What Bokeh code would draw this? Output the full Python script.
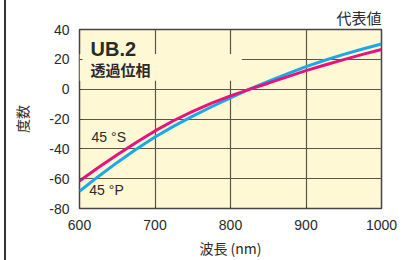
from bokeh.plotting import figure
from bokeh.models import Label, FixedTicker, Range1d, PrintfTickFormatter
from bokeh.embed import file_html
from bokeh.resources import INLINE

# wavelength (nm)
wavelength = [600, 625, 650, 675, 700, 725, 750, 775, 800, 825, 850, 875, 900, 925, 950, 975, 1000]
# 45° S-polarisation phase (deg)
phase_s = [-61.5, -52.5, -43.9, -35.7, -28.0, -21.0, -14.9, -9.4, -4.5, -0.1, 4.0, 8.2, 12.4, 16.2, 19.8, 23.3, 26.6]
# 45° P-polarisation phase (deg)
phase_p = [-68.5, -58.5, -49.1, -40.3, -32.1, -24.8, -18.1, -11.8, -5.8, 0.0, 5.2, 10.2, 15.1, 19.4, 23.3, 26.9, 30.3]

x_ticks = [600, 700, 800, 900, 1000]
y_ticks = [-80, -60, -40, -20, 0, 20, 40]

SANS = "Liberation Sans"
CJK = "Noto Sans CJK JP"
TXT = "#2a2a2a"

p = figure(width=394, height=260, output_backend="svg", toolbar_location=None,
           x_range=Range1d(600, 1000), y_range=Range1d(-80, 40),
           min_border_left=73, min_border_right=19, min_border_top=29, min_border_bottom=46)
p.styles = {"margin-left": "4px", "border-left": "2px solid #333333"}

p.title.text = "代表値"
p.title.align = "right"
p.title.text_font = CJK
p.title.text_font_size = "15px"
p.title.text_font_style = "normal"
p.title.text_color = TXT
p.title.standoff = 3

p.background_fill_color = "#FFF8D4"
p.border_fill_color = "white"
p.outline_line_color = "#444444"
p.outline_line_width = 1.5

for ax in (p.xaxis[0], p.yaxis[0]):
    ax.axis_line_color = None
    ax.major_tick_out = 0
    ax.major_tick_in = 3
    ax.major_tick_line_color = "#444444"
    ax.minor_tick_line_color = None
    ax.major_label_text_font = SANS
    ax.major_label_text_font_size = "14px"
    ax.major_label_text_color = TXT
    ax.axis_label_text_font = CJK
    ax.axis_label_text_font_size = "14px"
    ax.axis_label_text_font_style = "normal"
    ax.axis_label_text_color = TXT
    ax.formatter = PrintfTickFormatter(format="%d")

p.xaxis.ticker = FixedTicker(ticks=x_ticks)
p.yaxis.ticker = FixedTicker(ticks=y_ticks)
p.xaxis.axis_label = "波長 (nm)"
p.yaxis.axis_label = "度数"
p.xaxis.major_label_standoff = 11
p.xaxis.axis_label_standoff = 5
p.yaxis.major_label_standoff = 10
p.yaxis.axis_label_standoff = 14

p.xgrid.ticker = FixedTicker(ticks=x_ticks)
p.ygrid.ticker = FixedTicker(ticks=y_ticks)
for g in (p.xgrid[0], p.ygrid[0]):
    g.grid_line_color = "#5a5548"
    g.grid_line_width = 1.2

# box behind the title text that hides grid lines
p.quad(left=[600], right=[815], bottom=[5.6], top=[23.5], fill_color="#FFF8D4",
       line_color=None)

p.line(wavelength, phase_p, line_color="#1AA8E6", line_width=3)
p.line(wavelength, phase_s, line_color="#E6137F", line_width=3)

p.add_layout(Label(x=614.6, y=27.0, text="UB.2", text_align="left", text_baseline="middle",
                   text_font=SANS, text_font_size="20px",
                   text_font_style="bold", text_color=TXT))
p.add_layout(Label(x=614.6, y=13.4, text="透過位相", text_align="left", text_baseline="middle",
                   text_font=CJK, text_font_size="15px",
                   text_font_style="bold", text_color=TXT))
p.add_layout(Label(x=616, y=-32.1, text="45 °S", text_align="left", text_baseline="middle",
                   text_font=SANS, text_font_size="14px", text_color=TXT))
p.add_layout(Label(x=613, y=-67.8, text="45 °P", text_align="left", text_baseline="middle",
                   text_font=SANS, text_font_size="14px", text_color=TXT))

open("out.html", "w").write(file_html(p, INLINE))
